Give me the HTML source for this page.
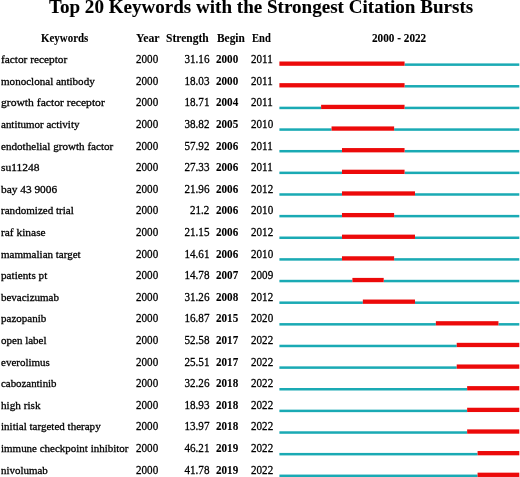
<!DOCTYPE html><html><head><meta charset="utf-8"><style>
html,body{margin:0;padding:0;background:#fff;width:520px;height:477px;overflow:hidden;}
body{position:relative;font-family:"Liberation Serif",serif;color:#000;}
.t{position:absolute;white-space:nowrap;line-height:1;-webkit-text-stroke:0.3px #000;}
.b{font-weight:bold;-webkit-text-stroke-width:0.1px;}
#tx{position:absolute;left:0;top:0;width:520px;height:477px;filter:grayscale(1) blur(0.3px);}
.r{text-align:right;}
.c{position:absolute;background:#1aaab4;}
.red{position:absolute;background:#ec0a0a;}
</style></head><body>
<div id="tx">
<div class="t b" style="left:49.00px;top:-3.17px;font-size:19.07px">Top 20 Keywords with the Strongest Citation Bursts</div>
<div class="t b" style="left:41.27px;top:32.62px;font-size:11.80px;transform:scaleX(0.9260);transform-origin:0 0">Keywords</div>
<div class="t b" style="left:136.00px;top:32.62px;font-size:11.80px;transform:scaleX(1.0000);transform-origin:0 0">Year</div>
<div class="t b" style="left:166.02px;top:32.62px;font-size:11.80px;transform:scaleX(0.9767);transform-origin:0 0">Strength</div>
<div class="t b" style="left:216.61px;top:32.62px;font-size:11.80px;transform:scaleX(0.9643);transform-origin:0 0">Begin</div>
<div class="t b" style="left:252.05px;top:32.62px;font-size:11.80px;transform:scaleX(0.8950);transform-origin:0 0">End</div>
<div class="t b" style="left:372.00px;top:32.62px;font-size:11.80px;transform:scaleX(0.9509);transform-origin:0 0">2000 - 2022</div>
<div class="t " style="left:1.00px;top:54.29px;font-size:11.30px;transform:scaleX(1.0015);transform-origin:0 0">factor receptor</div>
<div class="t " style="left:136.30px;top:53.23px;font-size:12.20px;transform:scaleX(0.9098);transform-origin:0 0">2000</div>
<div class="t " style="right:310.50px;top:53.23px;font-size:12.20px;transform:scaleX(0.9098);transform-origin:100% 0">31.16</div>
<div class="t b" style="left:216.20px;top:53.23px;font-size:12.20px;transform:scaleX(0.9098);transform-origin:0 0">2000</div>
<div class="t " style="left:251.30px;top:53.23px;font-size:12.20px;transform:scaleX(0.9098);transform-origin:0 0">2011</div>
<div class="t " style="left:1.00px;top:75.89px;font-size:11.30px;transform:scaleX(0.9792);transform-origin:0 0">monoclonal antibody</div>
<div class="t " style="left:136.30px;top:74.83px;font-size:12.20px;transform:scaleX(0.9098);transform-origin:0 0">2000</div>
<div class="t " style="right:310.50px;top:74.83px;font-size:12.20px;transform:scaleX(0.9098);transform-origin:100% 0">18.03</div>
<div class="t b" style="left:216.20px;top:74.83px;font-size:12.20px;transform:scaleX(0.9098);transform-origin:0 0">2000</div>
<div class="t " style="left:251.30px;top:74.83px;font-size:12.20px;transform:scaleX(0.9098);transform-origin:0 0">2011</div>
<div class="t " style="left:1.00px;top:97.49px;font-size:11.30px;transform:scaleX(1.0277);transform-origin:0 0">growth factor receptor</div>
<div class="t " style="left:136.30px;top:96.43px;font-size:12.20px;transform:scaleX(0.9098);transform-origin:0 0">2000</div>
<div class="t " style="right:310.50px;top:96.43px;font-size:12.20px;transform:scaleX(0.9098);transform-origin:100% 0">18.71</div>
<div class="t b" style="left:216.20px;top:96.43px;font-size:12.20px;transform:scaleX(0.9098);transform-origin:0 0">2004</div>
<div class="t " style="left:251.30px;top:96.43px;font-size:12.20px;transform:scaleX(0.9098);transform-origin:0 0">2011</div>
<div class="t " style="left:1.00px;top:119.09px;font-size:11.30px;transform:scaleX(0.9728);transform-origin:0 0">antitumor activity</div>
<div class="t " style="left:136.30px;top:118.03px;font-size:12.20px;transform:scaleX(0.9098);transform-origin:0 0">2000</div>
<div class="t " style="right:310.50px;top:118.03px;font-size:12.20px;transform:scaleX(0.9098);transform-origin:100% 0">38.82</div>
<div class="t b" style="left:216.20px;top:118.03px;font-size:12.20px;transform:scaleX(0.9098);transform-origin:0 0">2005</div>
<div class="t " style="left:251.30px;top:118.03px;font-size:12.20px;transform:scaleX(0.9098);transform-origin:0 0">2010</div>
<div class="t " style="left:1.00px;top:140.69px;font-size:11.30px;transform:scaleX(0.9835);transform-origin:0 0">endothelial growth factor</div>
<div class="t " style="left:136.30px;top:139.63px;font-size:12.20px;transform:scaleX(0.9098);transform-origin:0 0">2000</div>
<div class="t " style="right:310.50px;top:139.63px;font-size:12.20px;transform:scaleX(0.9098);transform-origin:100% 0">57.92</div>
<div class="t b" style="left:216.20px;top:139.63px;font-size:12.20px;transform:scaleX(0.9098);transform-origin:0 0">2006</div>
<div class="t " style="left:251.30px;top:139.63px;font-size:12.20px;transform:scaleX(0.9098);transform-origin:0 0">2011</div>
<div class="t " style="left:1.00px;top:162.29px;font-size:11.30px;transform:scaleX(1.0158);transform-origin:0 0">su11248</div>
<div class="t " style="left:136.30px;top:161.23px;font-size:12.20px;transform:scaleX(0.9098);transform-origin:0 0">2000</div>
<div class="t " style="right:310.50px;top:161.23px;font-size:12.20px;transform:scaleX(0.9098);transform-origin:100% 0">27.33</div>
<div class="t b" style="left:216.20px;top:161.23px;font-size:12.20px;transform:scaleX(0.9098);transform-origin:0 0">2006</div>
<div class="t " style="left:251.30px;top:161.23px;font-size:12.20px;transform:scaleX(0.9098);transform-origin:0 0">2011</div>
<div class="t " style="left:1.00px;top:183.89px;font-size:11.30px;transform:scaleX(1.0054);transform-origin:0 0">bay 43 9006</div>
<div class="t " style="left:136.30px;top:182.83px;font-size:12.20px;transform:scaleX(0.9098);transform-origin:0 0">2000</div>
<div class="t " style="right:310.50px;top:182.83px;font-size:12.20px;transform:scaleX(0.9098);transform-origin:100% 0">21.96</div>
<div class="t b" style="left:216.20px;top:182.83px;font-size:12.20px;transform:scaleX(0.9098);transform-origin:0 0">2006</div>
<div class="t " style="left:251.30px;top:182.83px;font-size:12.20px;transform:scaleX(0.9098);transform-origin:0 0">2012</div>
<div class="t " style="left:1.00px;top:205.49px;font-size:11.30px;transform:scaleX(0.9797);transform-origin:0 0">randomized trial</div>
<div class="t " style="left:136.30px;top:204.43px;font-size:12.20px;transform:scaleX(0.9098);transform-origin:0 0">2000</div>
<div class="t " style="right:310.50px;top:204.43px;font-size:12.20px;transform:scaleX(0.9098);transform-origin:100% 0">21.2</div>
<div class="t b" style="left:216.20px;top:204.43px;font-size:12.20px;transform:scaleX(0.9098);transform-origin:0 0">2006</div>
<div class="t " style="left:251.30px;top:204.43px;font-size:12.20px;transform:scaleX(0.9098);transform-origin:0 0">2010</div>
<div class="t " style="left:1.00px;top:227.09px;font-size:11.30px;transform:scaleX(1.0091);transform-origin:0 0">raf kinase</div>
<div class="t " style="left:136.30px;top:226.03px;font-size:12.20px;transform:scaleX(0.9098);transform-origin:0 0">2000</div>
<div class="t " style="right:310.50px;top:226.03px;font-size:12.20px;transform:scaleX(0.9098);transform-origin:100% 0">21.15</div>
<div class="t b" style="left:216.20px;top:226.03px;font-size:12.20px;transform:scaleX(0.9098);transform-origin:0 0">2006</div>
<div class="t " style="left:251.30px;top:226.03px;font-size:12.20px;transform:scaleX(0.9098);transform-origin:0 0">2012</div>
<div class="t " style="left:1.00px;top:248.69px;font-size:11.30px;transform:scaleX(0.9756);transform-origin:0 0">mammalian target</div>
<div class="t " style="left:136.30px;top:247.63px;font-size:12.20px;transform:scaleX(0.9098);transform-origin:0 0">2000</div>
<div class="t " style="right:310.50px;top:247.63px;font-size:12.20px;transform:scaleX(0.9098);transform-origin:100% 0">14.61</div>
<div class="t b" style="left:216.20px;top:247.63px;font-size:12.20px;transform:scaleX(0.9098);transform-origin:0 0">2006</div>
<div class="t " style="left:251.30px;top:247.63px;font-size:12.20px;transform:scaleX(0.9098);transform-origin:0 0">2010</div>
<div class="t " style="left:1.00px;top:270.29px;font-size:11.30px;transform:scaleX(0.9894);transform-origin:0 0">patients pt</div>
<div class="t " style="left:136.30px;top:269.23px;font-size:12.20px;transform:scaleX(0.9098);transform-origin:0 0">2000</div>
<div class="t " style="right:310.50px;top:269.23px;font-size:12.20px;transform:scaleX(0.9098);transform-origin:100% 0">14.78</div>
<div class="t b" style="left:216.20px;top:269.23px;font-size:12.20px;transform:scaleX(0.9098);transform-origin:0 0">2007</div>
<div class="t " style="left:251.30px;top:269.23px;font-size:12.20px;transform:scaleX(0.9098);transform-origin:0 0">2009</div>
<div class="t " style="left:1.00px;top:291.89px;font-size:11.30px;transform:scaleX(0.9717);transform-origin:0 0">bevacizumab</div>
<div class="t " style="left:136.30px;top:290.83px;font-size:12.20px;transform:scaleX(0.9098);transform-origin:0 0">2000</div>
<div class="t " style="right:310.50px;top:290.83px;font-size:12.20px;transform:scaleX(0.9098);transform-origin:100% 0">31.26</div>
<div class="t b" style="left:216.20px;top:290.83px;font-size:12.20px;transform:scaleX(0.9098);transform-origin:0 0">2008</div>
<div class="t " style="left:251.30px;top:290.83px;font-size:12.20px;transform:scaleX(0.9098);transform-origin:0 0">2012</div>
<div class="t " style="left:1.00px;top:313.49px;font-size:11.30px;transform:scaleX(0.9739);transform-origin:0 0">pazopanib</div>
<div class="t " style="left:136.30px;top:312.43px;font-size:12.20px;transform:scaleX(0.9098);transform-origin:0 0">2000</div>
<div class="t " style="right:310.50px;top:312.43px;font-size:12.20px;transform:scaleX(0.9098);transform-origin:100% 0">16.87</div>
<div class="t b" style="left:216.20px;top:312.43px;font-size:12.20px;transform:scaleX(0.9098);transform-origin:0 0">2015</div>
<div class="t " style="left:251.30px;top:312.43px;font-size:12.20px;transform:scaleX(0.9098);transform-origin:0 0">2020</div>
<div class="t " style="left:1.00px;top:335.09px;font-size:11.30px;transform:scaleX(0.9739);transform-origin:0 0">open label</div>
<div class="t " style="left:136.30px;top:334.03px;font-size:12.20px;transform:scaleX(0.9098);transform-origin:0 0">2000</div>
<div class="t " style="right:310.50px;top:334.03px;font-size:12.20px;transform:scaleX(0.9098);transform-origin:100% 0">52.58</div>
<div class="t b" style="left:216.20px;top:334.03px;font-size:12.20px;transform:scaleX(0.9098);transform-origin:0 0">2017</div>
<div class="t " style="left:251.30px;top:334.03px;font-size:12.20px;transform:scaleX(0.9098);transform-origin:0 0">2022</div>
<div class="t " style="left:1.00px;top:356.69px;font-size:11.30px;transform:scaleX(0.9740);transform-origin:0 0">everolimus</div>
<div class="t " style="left:136.30px;top:355.63px;font-size:12.20px;transform:scaleX(0.9098);transform-origin:0 0">2000</div>
<div class="t " style="right:310.50px;top:355.63px;font-size:12.20px;transform:scaleX(0.9098);transform-origin:100% 0">25.51</div>
<div class="t b" style="left:216.20px;top:355.63px;font-size:12.20px;transform:scaleX(0.9098);transform-origin:0 0">2017</div>
<div class="t " style="left:251.30px;top:355.63px;font-size:12.20px;transform:scaleX(0.9098);transform-origin:0 0">2022</div>
<div class="t " style="left:1.00px;top:378.29px;font-size:11.30px;transform:scaleX(0.9621);transform-origin:0 0">cabozantinib</div>
<div class="t " style="left:136.30px;top:377.23px;font-size:12.20px;transform:scaleX(0.9098);transform-origin:0 0">2000</div>
<div class="t " style="right:310.50px;top:377.23px;font-size:12.20px;transform:scaleX(0.9098);transform-origin:100% 0">32.26</div>
<div class="t b" style="left:216.20px;top:377.23px;font-size:12.20px;transform:scaleX(0.9098);transform-origin:0 0">2018</div>
<div class="t " style="left:251.30px;top:377.23px;font-size:12.20px;transform:scaleX(0.9098);transform-origin:0 0">2022</div>
<div class="t " style="left:1.00px;top:399.89px;font-size:11.30px;transform:scaleX(0.9925);transform-origin:0 0">high risk</div>
<div class="t " style="left:136.30px;top:398.83px;font-size:12.20px;transform:scaleX(0.9098);transform-origin:0 0">2000</div>
<div class="t " style="right:310.50px;top:398.83px;font-size:12.20px;transform:scaleX(0.9098);transform-origin:100% 0">18.93</div>
<div class="t b" style="left:216.20px;top:398.83px;font-size:12.20px;transform:scaleX(0.9098);transform-origin:0 0">2018</div>
<div class="t " style="left:251.30px;top:398.83px;font-size:12.20px;transform:scaleX(0.9098);transform-origin:0 0">2022</div>
<div class="t " style="left:1.00px;top:421.49px;font-size:11.30px;transform:scaleX(0.9765);transform-origin:0 0">initial targeted therapy</div>
<div class="t " style="left:136.30px;top:420.43px;font-size:12.20px;transform:scaleX(0.9098);transform-origin:0 0">2000</div>
<div class="t " style="right:310.50px;top:420.43px;font-size:12.20px;transform:scaleX(0.9098);transform-origin:100% 0">13.97</div>
<div class="t b" style="left:216.20px;top:420.43px;font-size:12.20px;transform:scaleX(0.9098);transform-origin:0 0">2018</div>
<div class="t " style="left:251.30px;top:420.43px;font-size:12.20px;transform:scaleX(0.9098);transform-origin:0 0">2022</div>
<div class="t " style="left:1.00px;top:443.09px;font-size:11.30px;transform:scaleX(0.9720);transform-origin:0 0">immune checkpoint inhibitor</div>
<div class="t " style="left:136.30px;top:442.03px;font-size:12.20px;transform:scaleX(0.9098);transform-origin:0 0">2000</div>
<div class="t " style="right:310.50px;top:442.03px;font-size:12.20px;transform:scaleX(0.9098);transform-origin:100% 0">46.21</div>
<div class="t b" style="left:216.20px;top:442.03px;font-size:12.20px;transform:scaleX(0.9098);transform-origin:0 0">2019</div>
<div class="t " style="left:251.30px;top:442.03px;font-size:12.20px;transform:scaleX(0.9098);transform-origin:0 0">2022</div>
<div class="t " style="left:1.00px;top:464.69px;font-size:11.30px;transform:scaleX(0.9688);transform-origin:0 0">nivolumab</div>
<div class="t " style="left:136.30px;top:463.63px;font-size:12.20px;transform:scaleX(0.9098);transform-origin:0 0">2000</div>
<div class="t " style="right:310.50px;top:463.63px;font-size:12.20px;transform:scaleX(0.9098);transform-origin:100% 0">41.78</div>
<div class="t b" style="left:216.20px;top:463.63px;font-size:12.20px;transform:scaleX(0.9098);transform-origin:0 0">2019</div>
<div class="t " style="left:251.30px;top:463.63px;font-size:12.20px;transform:scaleX(0.9098);transform-origin:0 0">2022</div>
</div>
<svg style="position:absolute;left:0;top:0;filter:blur(0.3px)" width="520" height="477" viewBox="0 0 520 477"><rect x="404.57" y="63.40" width="114.73" height="2.50" fill="#1aaab4"/><rect x="279.40" y="61.50" width="125.17" height="4.30" fill="#ec0a0a"/><rect x="404.57" y="85.04" width="114.73" height="2.50" fill="#1aaab4"/><rect x="279.40" y="83.14" width="125.17" height="4.30" fill="#ec0a0a"/><rect x="279.40" y="106.68" width="41.72" height="2.50" fill="#1aaab4"/><rect x="404.57" y="106.68" width="114.73" height="2.50" fill="#1aaab4"/><rect x="321.12" y="104.78" width="83.44" height="4.30" fill="#ec0a0a"/><rect x="279.40" y="128.32" width="52.15" height="2.50" fill="#1aaab4"/><rect x="394.13" y="128.32" width="125.17" height="2.50" fill="#1aaab4"/><rect x="331.55" y="126.42" width="62.58" height="4.30" fill="#ec0a0a"/><rect x="279.40" y="149.96" width="62.58" height="2.50" fill="#1aaab4"/><rect x="404.57" y="149.96" width="114.73" height="2.50" fill="#1aaab4"/><rect x="341.98" y="148.06" width="62.58" height="4.30" fill="#ec0a0a"/><rect x="279.40" y="171.60" width="62.58" height="2.50" fill="#1aaab4"/><rect x="404.57" y="171.60" width="114.73" height="2.50" fill="#1aaab4"/><rect x="341.98" y="169.70" width="62.58" height="4.30" fill="#ec0a0a"/><rect x="279.40" y="193.24" width="62.58" height="2.50" fill="#1aaab4"/><rect x="415.00" y="193.24" width="104.30" height="2.50" fill="#1aaab4"/><rect x="341.98" y="191.34" width="73.01" height="4.30" fill="#ec0a0a"/><rect x="279.40" y="214.88" width="62.58" height="2.50" fill="#1aaab4"/><rect x="394.13" y="214.88" width="125.17" height="2.50" fill="#1aaab4"/><rect x="341.98" y="212.98" width="52.15" height="4.30" fill="#ec0a0a"/><rect x="279.40" y="236.52" width="62.58" height="2.50" fill="#1aaab4"/><rect x="415.00" y="236.52" width="104.30" height="2.50" fill="#1aaab4"/><rect x="341.98" y="234.62" width="73.01" height="4.30" fill="#ec0a0a"/><rect x="279.40" y="258.16" width="62.58" height="2.50" fill="#1aaab4"/><rect x="394.13" y="258.16" width="125.17" height="2.50" fill="#1aaab4"/><rect x="341.98" y="256.26" width="52.15" height="4.30" fill="#ec0a0a"/><rect x="279.40" y="279.80" width="73.01" height="2.50" fill="#1aaab4"/><rect x="383.70" y="279.80" width="135.60" height="2.50" fill="#1aaab4"/><rect x="352.41" y="277.90" width="31.29" height="4.30" fill="#ec0a0a"/><rect x="279.40" y="301.44" width="83.44" height="2.50" fill="#1aaab4"/><rect x="415.00" y="301.44" width="104.30" height="2.50" fill="#1aaab4"/><rect x="362.84" y="299.54" width="52.15" height="4.30" fill="#ec0a0a"/><rect x="279.40" y="323.08" width="156.46" height="2.50" fill="#1aaab4"/><rect x="498.44" y="323.08" width="20.86" height="2.50" fill="#1aaab4"/><rect x="435.86" y="321.18" width="62.58" height="4.30" fill="#ec0a0a"/><rect x="279.40" y="344.72" width="177.32" height="2.50" fill="#1aaab4"/><rect x="456.72" y="342.82" width="62.58" height="4.30" fill="#ec0a0a"/><rect x="279.40" y="366.36" width="177.32" height="2.50" fill="#1aaab4"/><rect x="456.72" y="364.46" width="62.58" height="4.30" fill="#ec0a0a"/><rect x="279.40" y="388.00" width="187.75" height="2.50" fill="#1aaab4"/><rect x="467.15" y="386.10" width="52.15" height="4.30" fill="#ec0a0a"/><rect x="279.40" y="409.64" width="187.75" height="2.50" fill="#1aaab4"/><rect x="467.15" y="407.74" width="52.15" height="4.30" fill="#ec0a0a"/><rect x="279.40" y="431.28" width="187.75" height="2.50" fill="#1aaab4"/><rect x="467.15" y="429.38" width="52.15" height="4.30" fill="#ec0a0a"/><rect x="279.40" y="452.92" width="198.18" height="2.50" fill="#1aaab4"/><rect x="477.58" y="451.02" width="41.72" height="4.30" fill="#ec0a0a"/><rect x="279.40" y="474.56" width="198.18" height="2.50" fill="#1aaab4"/><rect x="477.58" y="472.66" width="41.72" height="4.30" fill="#ec0a0a"/></svg>
</body></html>
